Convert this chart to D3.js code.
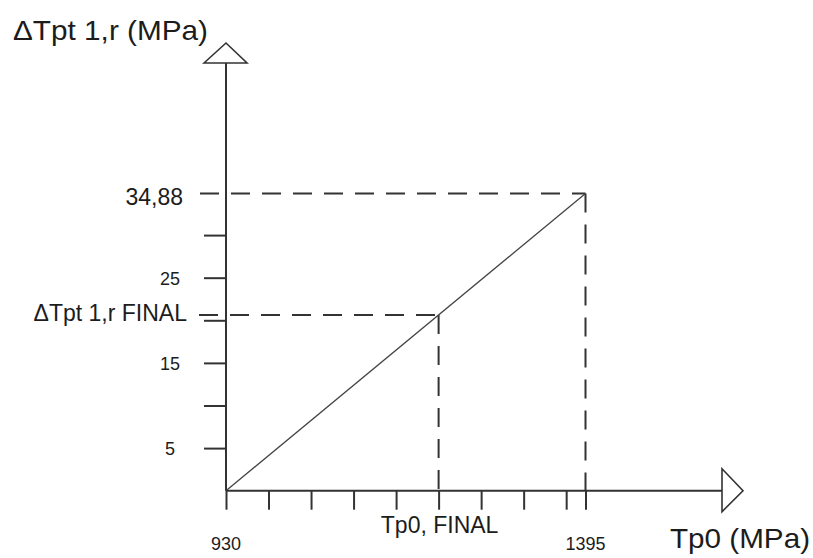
<!DOCTYPE html>
<html>
<head>
<meta charset="utf-8">
<script src="https://cdn.jsdelivr.net/npm/d3@7"></script>
<style>
  html, body { margin: 0; padding: 0; background: #fff; }
  svg { display: block; }
  text { font-family: "Liberation Sans", Arial, sans-serif; fill: #1c1c1c; }
</style>
</head>
<body>
<svg id="chart" width="813" height="558"></svg>
<script>
// ---- data ----
const xDomain = [930, 1395];          // Tp0 (MPa)
const yDomain = [0, 34.88];           // ΔTpt 1,r (MPa)
const xTicks = [930, 985, 1040, 1095, 1150, 1205, 1260, 1315, 1370, 1395];
const yTicks = [5, 10, 15, 20, 25, 30];
const yTickLabels = [5, 15, 25];
const lineX = [930, 1395];
const lineY = [0, 34.88];
const finalPoint = { x: 1205, y: 20.63 };
const maxPoint = { x: 1395, y: 34.88 };
const xLabels = [
  { v: 930, text: "930" },
  { v: 1395, text: "1395" }
];
const xFinalLabel = "Tp0, FINAL";
const yFinalLabel = "\u0394Tpt 1,r FINAL";
const yMaxLabel = "34,88";
const xTitle = "Tp0 (MPa)";
const yTitle = "\u0394Tpt 1,r (MPa)";

// ---- drawing ----
const svg = d3.select("#chart");
const ink = "#333";
const x = d3.scaleLinear().domain(xDomain).range([226, 585.5]);
const y = d3.scaleLinear().domain(yDomain).range([490.7, 193.5]);
const x0 = x(xDomain[0]), y0 = y(0);

// dashed guides
const dash = "19,12";
function dashed(x1, y1, x2, y2) {
  svg.append("line").attr("x1", x1).attr("y1", y1).attr("x2", x2).attr("y2", y2)
    .attr("stroke", ink).attr("stroke-width", 2).attr("stroke-dasharray", dash);
}
dashed(200, y(maxPoint.y), x(maxPoint.x), y(maxPoint.y));
dashed(x(maxPoint.x), y(maxPoint.y), x(maxPoint.x), y0);
dashed(199, y(finalPoint.y), x(finalPoint.x), y(finalPoint.y));
dashed(x(finalPoint.x), y(finalPoint.y), x(finalPoint.x), y0);

// the diagonal line
svg.append("path")
  .datum(lineX.map((d, i) => [d, lineY[i]]))
  .attr("d", d3.line().x(d => x(d[0])).y(d => y(d[1])))
  .attr("fill", "none").attr("stroke", "#444").attr("stroke-width", 1.3);

// axes ticks via d3 axes
const gx = svg.append("g").attr("transform", `translate(0,${y0})`)
  .call(d3.axisBottom(x).tickValues(xTicks).tickSize(19).tickFormat(""));
gx.select(".domain").remove();
gx.selectAll("line").attr("stroke", ink).attr("stroke-width", 2);

const gy = svg.append("g").attr("transform", `translate(${x0},0)`)
  .call(d3.axisLeft(y).tickValues(yTicks).tickSize(22).tickFormat(""));
gy.select(".domain").remove();
gy.selectAll("line").attr("stroke", ink).attr("stroke-width", 2);

// axis lines
svg.append("line").attr("x1", x0).attr("y1", y0).attr("x2", 722).attr("y2", y0)
  .attr("stroke", ink).attr("stroke-width", 2);
svg.append("line").attr("x1", x0).attr("y1", y0).attr("x2", x0).attr("y2", 63)
  .attr("stroke", ink).attr("stroke-width", 2);

// arrow heads (open triangles)
svg.append("path")
  .attr("d", `M${x0 - 22},63 L${x0},43 L${x0 + 21},63 Z`)
  .attr("fill", "#fff").attr("stroke", ink).attr("stroke-width", 1.6);
svg.append("path")
  .attr("d", `M722,${y0 - 22} L743,${y0} L722,${y0 + 21} Z`)
  .attr("fill", "#fff").attr("stroke", ink).attr("stroke-width", 1.6);

// y tick labels
svg.selectAll(".ylab").data(yTickLabels).enter().append("text")
  .attr("x", 170).attr("y", d => y(d) + 7)
  .attr("text-anchor", "middle").attr("font-size", 18)
  .text(d => d);
svg.append("text").attr("x", 183).attr("y", y(maxPoint.y) + 11)
  .attr("text-anchor", "end").attr("font-size", 23).text(yMaxLabel);
svg.append("text").attr("x", 187).attr("y", y(finalPoint.y) + 6)
  .attr("text-anchor", "end").attr("font-size", 23).text(yFinalLabel);

// x tick labels
svg.selectAll(".xlab").data(xLabels).enter().append("text")
  .attr("x", d => x(d.v)).attr("y", 550)
  .attr("text-anchor", "middle").attr("font-size", 18)
  .text(d => d.text);
svg.append("text").attr("x", x(finalPoint.x) + 1).attr("y", 533)
  .attr("text-anchor", "middle").attr("font-size", 23).text(xFinalLabel);

// titles
svg.append("text").attr("x", 13).attr("y", 40).attr("font-size", 28)
  .attr("textLength", 195).attr("lengthAdjust", "spacingAndGlyphs").text(yTitle);
svg.append("text").attr("x", 670).attr("y", 548).attr("font-size", 28)
  .attr("textLength", 140).attr("lengthAdjust", "spacingAndGlyphs").text(xTitle);
</script>
</body>
</html>
